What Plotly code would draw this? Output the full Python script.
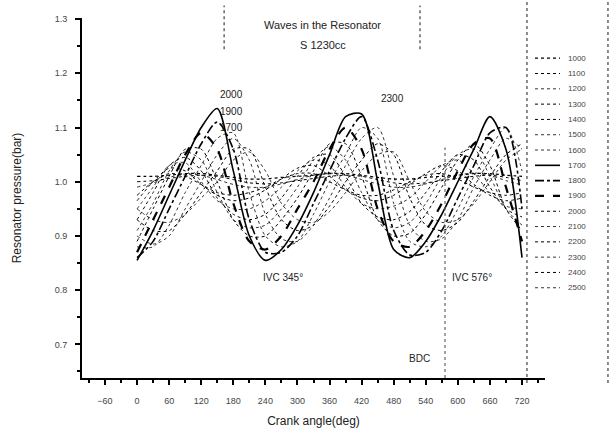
import plotly.graph_objects as go

# Crank angle samples (deg)
angle = [0, 30, 60, 90, 120, 150, 180, 210, 240, 270, 300, 330, 360,
         390, 420, 450, 480, 510, 540, 570, 600, 630, 660, 690, 720]

# Resonator pressure (bar) per engine speed (rpm)
p1000 = [1.010, 1.010, 1.012, 1.015, 1.015, 1.012, 1.008, 1.005, 1.005, 1.008, 1.010, 1.012, 1.015,
         1.015, 1.012, 1.008, 1.005, 1.005, 1.008, 1.010, 1.012, 1.015, 1.015, 1.012, 1.010]
p1100 = [1.000, 1.002, 1.006, 1.010, 1.012, 1.010, 1.004, 0.998, 0.996, 0.998, 1.002, 1.006, 1.010,
         1.012, 1.010, 1.004, 0.998, 0.996, 0.998, 1.002, 1.006, 1.010, 1.012, 1.008, 1.002]
p1200 = [0.990, 0.998, 1.008, 1.014, 1.012, 1.004, 0.995, 0.990, 0.990, 0.996, 1.004, 1.012, 1.016,
         1.012, 1.004, 0.996, 0.990, 0.990, 0.996, 1.004, 1.012, 1.016, 1.012, 1.002, 0.994]
p1300 = [0.975, 1.000, 1.015, 1.010, 0.995, 0.980, 0.975, 0.980, 0.990, 1.005, 1.015, 1.015, 1.000,
         0.985, 0.975, 0.975, 0.985, 1.000, 1.012, 1.015, 1.005, 0.990, 0.980, 0.975, 0.980]
p1400 = [0.965, 1.000, 1.025, 1.020, 0.995, 0.975, 0.965, 0.970, 0.985, 1.005, 1.025, 1.030, 1.010,
         0.985, 0.970, 0.965, 0.975, 0.995, 1.015, 1.030, 1.020, 0.995, 0.975, 0.965, 0.970]
p1500 = [0.950, 0.990, 1.030, 1.035, 1.000, 0.965, 0.950, 0.950, 0.965, 0.990, 1.020, 1.040, 1.030,
         0.990, 0.960, 0.950, 0.955, 0.970, 1.000, 1.030, 1.040, 1.015, 0.980, 0.955, 0.950]
p1600 = [0.910, 0.960, 1.020, 1.055, 1.040, 0.980, 0.930, 0.915, 0.920, 0.950, 0.990, 1.040, 1.065,
         1.040, 0.980, 0.930, 0.915, 0.925, 0.960, 1.010, 1.050, 1.060, 1.010, 0.950, 0.920]
p1700 = [0.855, 0.910, 0.975, 1.040, 1.100, 1.135, 1.020, 0.900, 0.855, 0.875, 0.920, 0.980, 1.050,
         1.120, 1.125, 1.000, 0.875, 0.860, 0.890, 0.940, 1.000, 1.060, 1.120, 1.060, 0.860]
p1800 = [0.860, 0.890, 0.950, 1.010, 1.070, 1.110, 1.060, 0.930, 0.870, 0.870, 0.900, 0.960, 1.020,
         1.080, 1.120, 1.040, 0.910, 0.865, 0.870, 0.910, 0.970, 1.030, 1.090, 1.100, 0.950]
p1900 = [0.870, 0.930, 0.990, 1.050, 1.090, 1.060, 0.960, 0.890, 0.875, 0.900, 0.950, 1.000, 1.060,
         1.100, 1.060, 0.950, 0.890, 0.880, 0.910, 0.960, 1.020, 1.070, 1.080, 0.990, 0.890]
p2000 = [0.890, 0.950, 1.010, 1.060, 1.060, 1.000, 0.930, 0.900, 0.900, 0.930, 0.970, 1.020, 1.070,
         1.070, 1.010, 0.930, 0.900, 0.905, 0.940, 0.990, 1.040, 1.070, 1.030, 0.950, 0.910]
p2100 = [0.880, 0.880, 0.920, 0.980, 1.030, 1.080, 1.090, 0.980, 0.900, 0.880, 0.890, 0.940, 1.000,
         1.050, 1.100, 1.080, 0.960, 0.890, 0.880, 0.900, 0.950, 1.010, 1.060, 1.100, 1.020]
p2200 = [0.930, 0.980, 1.030, 1.045, 1.020, 0.970, 0.940, 0.930, 0.940, 0.970, 1.010, 1.045, 1.050,
         1.010, 0.960, 0.935, 0.930, 0.945, 0.980, 1.020, 1.050, 1.040, 0.990, 0.950, 0.935]
p2300 = [0.900, 0.885, 0.900, 0.950, 1.000, 1.050, 1.080, 1.040, 0.940, 0.895, 0.890, 0.920, 0.970,
         1.030, 1.080, 1.100, 1.010, 0.920, 0.890, 0.895, 0.930, 0.990, 1.040, 1.080, 1.060]
p2400 = [0.930, 0.910, 0.910, 0.940, 0.980, 1.020, 1.060, 1.060, 0.990, 0.930, 0.910, 0.920, 0.955,
         1.000, 1.040, 1.070, 1.050, 0.970, 0.920, 0.910, 0.925, 0.965, 1.010, 1.050, 1.070]
p2500 = [0.950, 0.930, 0.925, 0.940, 0.970, 1.000, 1.040, 1.055, 1.020, 0.960, 0.930, 0.925, 0.945,
         0.980, 1.020, 1.050, 1.055, 1.000, 0.945, 0.925, 0.930, 0.960, 1.000, 1.040, 1.060]

speeds = ["1000", "1100", "1200", "1300", "1400", "1500", "1600", "1700",
          "1800", "1900", "2000", "2100", "2200", "2300", "2400", "2500"]
series = [p1000, p1100, p1200, p1300, p1400, p1500, p1600, p1700,
          p1800, p1900, p2000, p2100, p2200, p2300, p2400, p2500]

x_ticks = [-60, 0, 60, 120, 180, 240, 300, 360, 420, 480, 540, 600, 660, 720]
y_ticks = [0.7, 0.8, 0.9, 1.0, 1.1, 1.2, 1.3]

styles = [
    ("dot", 1.2), ("dot", 1.0), ("dot", 0.8), ("dot", 1.0),
    ("dot", 1.0), ("dot", 0.8), ("dot", 0.8), ("solid", 1.6),
    ("dashdot", 1.6), ("dash", 2.2), ("dot", 1.0), ("dot", 0.8),
    ("dot", 1.0), ("dot", 0.8), ("dot", 1.0), ("dot", 0.8),
]

fig = go.Figure()
for name, ys, (dash, w) in zip(speeds, series, styles):
    fig.add_trace(go.Scatter(
        x=angle, y=ys, name=name, mode="lines", showlegend=False,
        line=dict(color="black", width=w, dash=dash, shape="spline", smoothing=0.8),
    ))

font_family = "Liberation Sans, Arial, sans-serif"

fig.update_layout(
    width=612, height=438,
    margin=dict(l=82, r=67, t=18, b=53),
    paper_bgcolor="white", plot_bgcolor="white",
    font=dict(family=font_family, size=9, color="#222"),
    showlegend=False,
    xaxis=dict(range=[-103, 763], tickvals=x_ticks, showgrid=False, zeroline=False,
               showline=True, linecolor="black", linewidth=2, ticks="outside",
               ticklen=5, tickwidth=1.5, tickcolor="black",
               minor=dict(dtick=30, tick0=0, ticks="outside", ticklen=3, tickcolor="black"),
               tickfont=dict(size=9, color="#444"), ticklabelstandoff=8,
               title=dict(text="Crank angle(deg)", font=dict(size=12, color="#222"), standoff=12)),
    yaxis=dict(range=[0.638, 1.302], tickvals=y_ticks, showgrid=False, zeroline=False,
               showline=True, linecolor="black", linewidth=2, ticks="outside",
               ticklen=5, tickwidth=1.5, tickcolor="black",
               minor=dict(dtick=0.05, tick0=0, ticks="outside", ticklen=3, tickcolor="black"),
               tickfont=dict(size=9, color="#444"), tickformat=".1f", ticklabelstandoff=6,
               title=dict(text="Resonator pressure(bar)", font=dict(size=12, color="#222"), standoff=30)),
)

dotted = dict(color="#666", width=1.5, dash="dot")
# title box borders
fig.add_shape(type="line", xref="paper", yref="paper", x0=0.307, x1=0.307, y0=0.913, y1=1.035, line=dotted)
fig.add_shape(type="line", xref="paper", yref="paper", x0=0.730, x1=0.730, y0=0.913, y1=1.035, line=dotted)
# legend box borders
fig.add_shape(type="line", xref="paper", yref="paper", x0=0.961, x1=0.961, y0=-0.014, y1=1.05, line=dotted)
fig.add_shape(type="line", xref="paper", yref="paper", x0=1.136, x1=1.136, y0=-0.014, y1=1.05, line=dotted)
# IVC 576 marker line
fig.add_shape(type="line", xref="x", yref="y", x0=576, x1=576, y0=0.638, y1=1.063,
              line=dict(color="#666", width=1.2, dash="dot"))

# legend key (drawn to match the compact row spacing of the original)
plot_w, plot_h = 463.0, 367.0
for i, (name, (dash, w)) in enumerate(zip(speeds, styles)):
    py = 59 + i * 15.6
    yp = (385 - py) / plot_h
    fig.add_shape(type="line", xref="paper", yref="paper",
                  x0=(535 - 82) / plot_w, x1=(560 - 82) / plot_w, y0=yp, y1=yp,
                  line=dict(color="black", width=w, dash=dash))
    fig.add_annotation(xref="paper", yref="paper", x=(566 - 82) / plot_w, y=yp,
                       text=name, showarrow=False, xanchor="left", yanchor="middle",
                       font=dict(size=8, color="#444"))

fig.add_annotation(xref="paper", yref="paper", x=0.52, y=1.003, text="Waves in the Resonator",
                   showarrow=False, font=dict(size=11, color="#222"))
fig.add_annotation(xref="paper", yref="paper", x=0.52, y=0.948, text="S 1230cc",
                   showarrow=False, font=dict(size=11, color="#222"))

labels = [
    (176, 1.161, "2000"), (176, 1.130, "1900"), (176, 1.100, "1700"),
    (477, 1.154, "2300"), (273, 0.824, "IVC 345°"), (626, 0.824, "IVC 576°"),
    (529, 0.674, "BDC"),
]
for lx, ly, txt in labels:
    fig.add_annotation(x=lx, y=ly, text=txt, showarrow=False, font=dict(size=10, color="#222"))

fig.write_html("out.html")
